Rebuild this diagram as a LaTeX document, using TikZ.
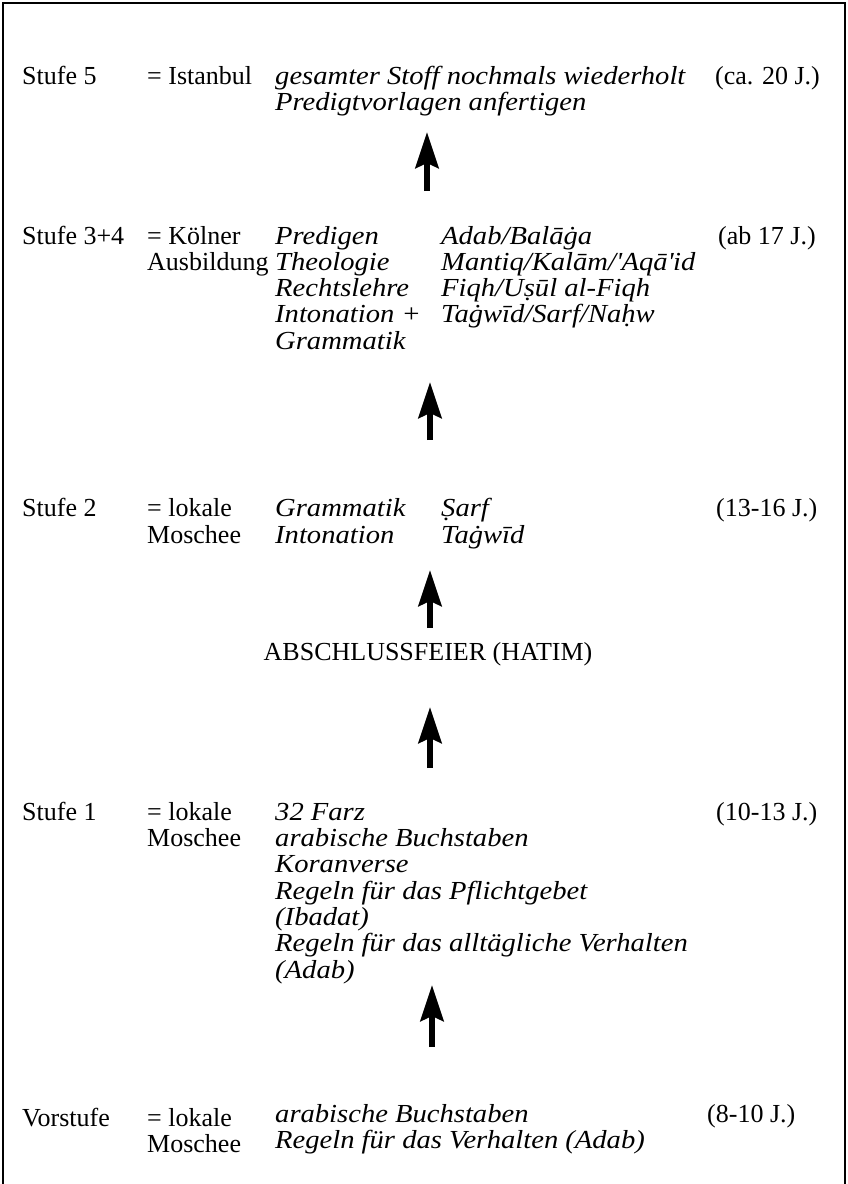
\documentclass[tikz,border=0pt]{standalone}
\usepackage{fontspec}
\setmainfont{Liberation Serif}[ItalicFeatures={FakeStretch=1.1}]
\usetikzlibrary{arrows.meta}
\tikzset{
  rom/.style={anchor=base west, inner sep=0pt, font=\fontsize{26}{30}\selectfont},
  ita/.style={anchor=base west, inner sep=0pt, font=\fontsize{26}{30}\selectfont\itshape},
  uparrow/.style={line width=6pt, -{Stealth[length=36pt, width=23pt, inset=5pt]}},
  frame/.style={line width=2.5pt}
}
\begin{document}
\begin{tikzpicture}[x=1pt,y=-1pt]
\useasboundingbox (0,0) rectangle (848,1184);
\draw[frame] (3,1184) -- (3,3) -- (845,3) -- (845,1184);

% Stufe 5
\node[rom] (s5a) at (22,84) {Stufe 5};
\node[rom] (s5b) at (147,84) {= Istanbul};
\node[ita] (s5c) at (275,84) {gesamter Stoff nochmals wiederholt};
\node[rom] (s5d) at (715,84) {(ca. 20 J.)};
\node[ita] (s5e) at (275,110) {Predigtvorlagen anfertigen};

% Stufe 3+4
\node[rom] (s4a) at (22,244) {Stufe 3+4};
\node[rom] (s4b) at (147,244) {= Kölner};
\node[rom] (s4c) at (147,270) {Ausbildung};
\node[ita] (s4d) at (275,244) {Predigen};
\node[ita] (s4e) at (275,270) {Theologie};
\node[ita] (s4f) at (275,296) {Rechtslehre};
\node[ita] (s4g) at (275,322) {Intonation +};
\node[ita] (s4h) at (275,349) {Grammatik};
\node[ita] (s4i) at (441,244) {Adab/Balāġa};
\node[ita] (s4j) at (441,270) {Mantiq/Kalām/\textquotesingle Aqā\textquotesingle id};
\node[ita] (s4k) at (441,296) {Fiqh/Uṣūl al-Fiqh};
\node[ita] (s4l) at (441,322) {Taġwīd/Sarf/Naḥw};
\node[rom] (s4m) at (718,244) {(ab 17 J.)};

% Stufe 2
\node[rom] (s2a) at (22,516) {Stufe 2};
\node[rom] (s2b) at (147,516) {= lokale};
\node[rom] (s2c) at (147,543) {Moschee};
\node[ita] (s2d) at (275,516) {Grammatik};
\node[ita] (s2e) at (275,543) {Intonation};
\node[ita] (s2f) at (441,516) {Ṣarf};
\node[ita] (s2g) at (441,543) {Taġwīd};
\node[rom] (s2h) at (716,516) {(13-16 J.)};

% Abschluss
\node[rom, anchor=base] (hat) at (428,660) {ABSCHLUSSFEIER (HATIM)};

% Stufe 1
\node[rom] (s1a) at (22,820) {Stufe 1};
\node[rom] (s1b) at (147,820) {= lokale};
\node[rom] (s1c) at (147,846) {Moschee};
\node[ita] (s1d) at (275,820) {32 Farz};
\node[ita] (s1e) at (275,846) {arabische Buchstaben};
\node[ita] (s1f) at (275,872) {Koranverse};
\node[ita] (s1g) at (275,899) {Regeln für das Pflichtgebet};
\node[ita] (s1h) at (275,925) {(Ibadat)};
\node[ita] (s1i) at (275,951) {Regeln für das alltägliche Verhalten};
\node[ita] (s1j) at (275,978) {(Adab)};
\node[rom] (s1k) at (716,820) {(10-13 J.)};

% Vorstufe
\node[rom] (v0a) at (22,1126) {Vorstufe};
\node[rom] (v0b) at (147,1126) {= lokale};
\node[rom] (v0c) at (147,1152) {Moschee};
\node[ita] (v0d) at (275,1122) {arabische Buchstaben};
\node[ita] (v0e) at (275,1148) {Regeln für das Verhalten (Adab)};
\node[rom] (v0f) at (707,1122) {(8-10 J.)};

% arrows
\coordinate (a1b) at (427,191); \coordinate (a1t) at (427,132);
\coordinate (a2b) at (430,440); \coordinate (a2t) at (430,382);
\coordinate (a3b) at (430,628); \coordinate (a3t) at (430,570);
\coordinate (a4b) at (430,768); \coordinate (a4t) at (430,707);
\coordinate (a5b) at (432,1047); \coordinate (a5t) at (432,985);
\draw[uparrow] (a1b) -- (a1t);
\draw[uparrow] (a2b) -- (a2t);
\draw[uparrow] (a3b) -- (a3t);
\draw[uparrow] (a4b) -- (a4t);
\draw[uparrow] (a5b) -- (a5t);
\end{tikzpicture}
\end{document}
